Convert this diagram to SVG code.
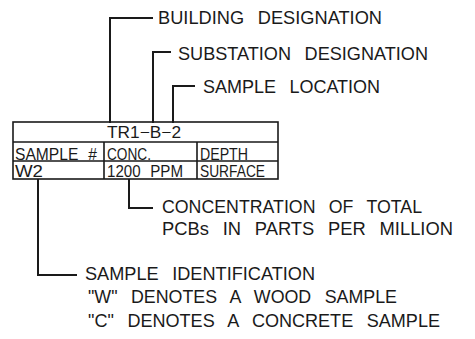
<svg xmlns="http://www.w3.org/2000/svg" width="475" height="339" viewBox="0 0 475 339">
<style>
.t{font-family:"Liberation Sans",Arial,sans-serif;font-size:19px;fill:#1a1a1a;word-spacing:9px}
.s{font-family:"Liberation Sans",Arial,sans-serif;font-size:16.5px;fill:#1a1a1a;word-spacing:6px}
.c{fill:none;stroke:#1a1a1a;stroke-width:2}
.g{fill:none;stroke:#1a1a1a;stroke-width:1.6}
</style>
<rect width="475" height="339" fill="#fff"/>
<g id="connectors">
<path class="c" d="M110,123 V18 H153"/>
<path class="c" d="M153,123 V52 H171"/>
<path class="c" d="M173,123 V86 H195"/>
<path class="c" d="M129,179 V208 H153"/>
<path class="c" d="M38,179 V275 H77"/>
</g>
<g id="table">
<rect class="g" x="13" y="122" width="265" height="57"/>
<path class="g" d="M13,142 H278 M13,161 H278 M104,142 V179 M197,142 V179"/>
<text class="s" x="107" y="138" textLength="74" lengthAdjust="spacingAndGlyphs">TR1−B−2</text>
<text class="s" x="15" y="159.5" textLength="82" lengthAdjust="spacingAndGlyphs">SAMPLE #</text>
<text class="s" x="107" y="159.5" textLength="44" lengthAdjust="spacingAndGlyphs">CONC.</text>
<text class="s" x="200" y="159.5" textLength="48" lengthAdjust="spacingAndGlyphs">DEPTH</text>
<text class="s" x="15" y="177" textLength="28" lengthAdjust="spacingAndGlyphs">W2</text>
<text class="s" x="107" y="177" textLength="76" lengthAdjust="spacingAndGlyphs">1200 PPM</text>
<text class="s" x="200" y="177" textLength="65" lengthAdjust="spacingAndGlyphs">SURFACE</text>
</g>
<g id="building">
<text class="t" x="158" y="24" textLength="224" lengthAdjust="spacingAndGlyphs">BUILDING DESIGNATION</text>
</g>
<g id="substation">
<text class="t" x="178" y="60" textLength="250" lengthAdjust="spacingAndGlyphs">SUBSTATION DESIGNATION</text>
</g>
<g id="location">
<text class="t" x="203" y="93" textLength="177" lengthAdjust="spacingAndGlyphs">SAMPLE LOCATION</text>
</g>
<g id="concentration">
<text class="t" x="162" y="213" textLength="260" lengthAdjust="spacingAndGlyphs">CONCENTRATION OF TOTAL</text>
<text class="t" x="162" y="235" textLength="291" lengthAdjust="spacingAndGlyphs">PCBs IN PARTS PER MILLION</text>
</g>
<g id="identification">
<text class="t" x="85" y="280" textLength="230" lengthAdjust="spacingAndGlyphs">SAMPLE IDENTIFICATION</text>
<text class="t" x="88" y="303" textLength="309" lengthAdjust="spacingAndGlyphs">"W" DENOTES A WOOD SAMPLE</text>
<text class="t" x="88" y="327" textLength="352" lengthAdjust="spacingAndGlyphs">"C" DENOTES A CONCRETE SAMPLE</text>
</g>
</svg>
